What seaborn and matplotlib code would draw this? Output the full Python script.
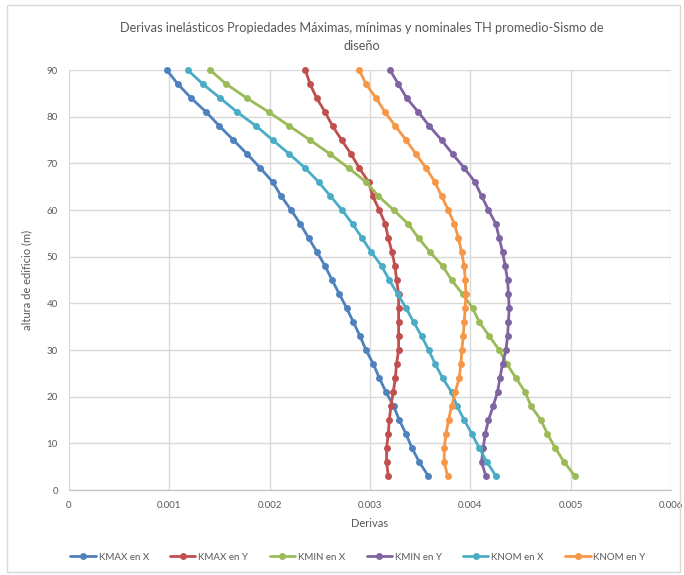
import pandas as pd
import matplotlib
matplotlib.use("Agg")
import matplotlib.pyplot as plt
import seaborn as sns
from matplotlib.patches import Rectangle

# heights of each story (m)
altura = [90, 87, 84, 81, 78, 75, 72, 69, 66, 63, 60, 57, 54, 51, 48,
          45, 42, 39, 36, 33, 30, 27, 24, 21, 18, 15, 12, 9, 6, 3]

# drifts (x 1e-3)
kmax_x = [0.974, 1.084, 1.217, 1.367, 1.499, 1.638, 1.775, 1.907, 2.030, 2.114,
          2.213, 2.306, 2.388, 2.472, 2.552, 2.622, 2.694, 2.767, 2.834, 2.900,
          2.960, 3.033, 3.093, 3.159, 3.235, 3.292, 3.359, 3.418, 3.491, 3.581]
kmax_y = [2.356, 2.402, 2.468, 2.552, 2.627, 2.717, 2.811, 2.893, 2.986, 3.026,
          3.093, 3.152, 3.182, 3.219, 3.249, 3.265, 3.285, 3.285, 3.285, 3.285,
          3.285, 3.265, 3.252, 3.232, 3.209, 3.192, 3.182, 3.165, 3.165, 3.182]
kmin_x = [1.406, 1.566, 1.771, 1.990, 2.196, 2.402, 2.602, 2.787, 2.960, 3.083,
          3.235, 3.381, 3.484, 3.598, 3.723, 3.813, 3.922, 4.022, 4.089, 4.188,
          4.288, 4.365, 4.454, 4.547, 4.604, 4.703, 4.769, 4.846, 4.935, 5.042]
kmin_y = [3.199, 3.282, 3.365, 3.481, 3.591, 3.713, 3.823, 3.939, 4.046, 4.112,
          4.181, 4.255, 4.288, 4.321, 4.348, 4.371, 4.380, 4.387, 4.380, 4.371,
          4.355, 4.321, 4.295, 4.271, 4.228, 4.181, 4.148, 4.128, 4.112, 4.155]
knom_x = [1.183, 1.333, 1.506, 1.675, 1.865, 2.030, 2.196, 2.353, 2.488, 2.605,
          2.721, 2.827, 2.920, 3.013, 3.116, 3.192, 3.275, 3.359, 3.434, 3.514,
          3.584, 3.650, 3.723, 3.813, 3.867, 3.939, 4.016, 4.089, 4.165, 4.255]
knom_y = [2.893, 2.960, 3.060, 3.149, 3.252, 3.359, 3.458, 3.558, 3.647, 3.713,
          3.780, 3.840, 3.882, 3.912, 3.939, 3.949, 3.956, 3.949, 3.939, 3.929,
          3.916, 3.906, 3.889, 3.850, 3.813, 3.783, 3.757, 3.740, 3.740, 3.773]

series = ["KMAX en X", "KMAX en Y", "KMIN en X", "KMIN en Y", "KNOM en X", "KNOM en Y"]
valores = [kmax_x, kmax_y, kmin_x, kmin_y, knom_x, knom_y]
colores = ["#4F81BD", "#C0504D", "#9BBB59", "#8064A2", "#4BACC6", "#F79646"]

rows = []
for name, vals in zip(series, valores):
    for h, v in zip(altura, vals):
        rows.append({"serie": name, "deriva": v / 1000.0, "altura": h})
df = pd.DataFrame(rows)

sns.set_style("white")
plt.rcParams["font.family"] = ["Lato", "DejaVu Sans"]
txt = "#595959"

fig = plt.figure(figsize=(6.84, 5.75), dpi=100)
ax = fig.add_axes([69 / 684, 1 - 490 / 575, (671 - 69) / 684, (490 - 70) / 575])

sns.lineplot(data=df, x="deriva", y="altura", hue="serie", hue_order=series,
             palette=colores, sort=False, estimator=None, marker="o",
             markersize=5, markeredgewidth=0, linewidth=2, ax=ax, legend=True,
             clip_on=False)

ax.set_xlim(0, 0.006)
ax.set_ylim(0, 90)
ax.set_xticks([0, 0.001, 0.002, 0.003, 0.004, 0.005, 0.006])
ax.set_xticklabels(["0", "0.001", "0.002", "0.003", "0.004", "0.005", "0.006"])
ax.set_yticks(range(0, 91, 10))
ax.tick_params(axis="both", labelsize=7, colors=txt, length=0, pad=8)
ax.grid(True, color="#D9D9D9", linewidth=1)
for s in ["top", "right", "left"]:
    ax.spines[s].set_visible(False)
ax.spines["bottom"].set_color("#BFBFBF")
ax.set_xlabel("Derivas", fontsize=8, color=txt, labelpad=6)
ax.set_ylabel("altura de edificio (m)", fontsize=8, color=txt, labelpad=10)

handles, labels = ax.get_legend_handles_labels()
for hd in handles:
    hd.set_clip_on(False)
ax.legend(handles, labels, loc="center", bbox_to_anchor=(358 / 684, 1 - 557 / 575),
          bbox_transform=fig.transFigure, ncol=6, frameon=False, fontsize=7,
          labelcolor=txt, handlelength=2.6, columnspacing=2.2, handletextpad=0.3)

fig.text(362 / 684, 1 - 37 / 575,
         "Derivas inelásticos Propiedades Máximas, mínimas y nominales TH promedio-Sismo de\ndiseño",
         ha="center", va="center", fontsize=9.2, color=txt, linespacing=1.5)

fig.patches.append(Rectangle((7 / 684, 3 / 575), 673 / 684, 567 / 575,
                             transform=fig.transFigure, fill=False,
                             edgecolor="#D9D9D9", linewidth=1))

fig.savefig("out.png", dpi=100)
